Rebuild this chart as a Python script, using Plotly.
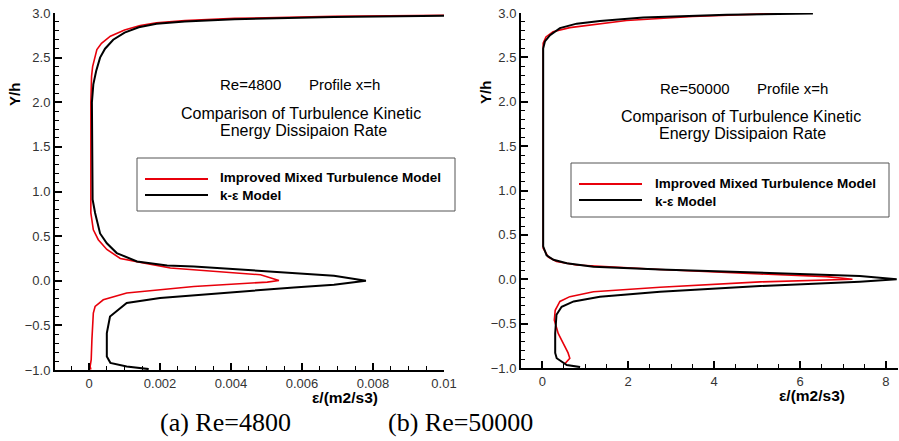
import plotly.graph_objects as go

W, H = 899, 441

# ---------------- data ----------------
# (a) Re=4800  -- epsilon (m2/s3) vs Y/h
ke_4800_x = [0.01, 0.0069, 0.0041, 0.0027, 0.0019, 0.0014, 0.001, 0.00068, 0.00045, 0.00031,
             0.0002, 0.00012, 0.00008, 0.00008, 0.0001, 0.00017, 0.00031, 0.0005, 0.00078,
             0.00135, 0.0022, 0.00295, 0.005, 0.006, 0.0069, 0.0078, 0.0069, 0.00577, 0.00389,
             0.002, 0.00106, 0.00059, 0.0005, 0.0005, 0.0005, 0.0006, 0.00106, 0.00168]
ke_4800_y = [2.97, 2.955, 2.93, 2.905, 2.88, 2.84, 2.78, 2.70, 2.60, 2.50,
             2.35, 2.20, 2.00, 1.00, 0.91, 0.76, 0.53, 0.42, 0.31,
             0.216, 0.17, 0.16, 0.11, 0.086, 0.056, 0.0, -0.045, -0.075, -0.138,
             -0.194, -0.25, -0.40, -0.586, -0.77, -0.85, -0.92, -0.96, -0.99]

imp_4800_x = [0.01, 0.0069, 0.0041, 0.0027, 0.0019, 0.00144, 0.001, 0.0006, 0.00035, 0.00022,
              0.0001, 0.00007, 0.00005, 0.00005, 0.00005, 0.00012, 0.00026, 0.0005, 0.00088,
              0.00153, 0.00229, 0.00483, 0.00535, 0.00502, 0.00295, 0.00106, 0.0004, 0.00017,
              0.00012, 0.00008, 0.00006, 0.00003, 0.00005]
imp_4800_y = [2.975, 2.962, 2.94, 2.915, 2.89, 2.86, 2.81, 2.74, 2.66, 2.59,
              2.40, 2.29, 2.00, 1.00, 0.76, 0.57, 0.46, 0.35, 0.25,
              0.20, 0.142, 0.067, 0.003, -0.015, -0.064, -0.138, -0.213, -0.288,
              -0.362, -0.66, -0.885, -0.96, -0.995]

# (b) Re=50000
ke_50000_x = [6.3, 4.29, 2.35, 1.34, 0.8, 0.41, 0.18, 0.06, 0.02, 0.02, 0.1, 0.26, 0.57, 1.19,
              2.74, 5.07, 7.39, 8.25, 7.39, 5.07, 2.74, 1.34, 0.73, 0.45, 0.33, 0.30, 0.30,
              0.335, 0.57, 0.88]
ke_50000_y = [2.995, 2.98, 2.95, 2.91, 2.88, 2.83, 2.75, 2.68, 2.60, 0.37, 0.27, 0.22, 0.18, 0.14,
              0.11, 0.074, 0.037, 0.0, -0.027, -0.076, -0.14, -0.196, -0.25, -0.31, -0.40, -0.61,
              -0.83, -0.89, -0.966, -0.99]

imp_50000_x = [5.42, 3.5, 1.96, 1.19, 0.64, 0.25, 0.085, 0.02, 0.02, 0.14, 0.33, 0.8, 2.74,
               5.07, 6.62, 7.22, 6.62, 5.07, 2.74, 1.19, 0.64, 0.41, 0.30, 0.28, 0.37, 0.49,
               0.6, 0.64, 0.57, 0.53]
imp_50000_y = [2.995, 2.96, 2.915, 2.87, 2.835, 2.79, 2.73, 2.66, 0.35, 0.25, 0.20, 0.16, 0.11,
               0.06, 0.03, 0.0, -0.008, -0.03, -0.09, -0.14, -0.196, -0.25, -0.35, -0.46, -0.61,
               -0.72, -0.83, -0.89, -0.93, -0.95]

series_names = ["Improved Mixed Turbulence Model", "k-\u03b5 Model"]
y_ticks = [-1.0, -0.5, 0.0, 0.5, 1.0, 1.5, 2.0, 2.5, 3.0]
xa_ticks = [0, 0.002, 0.004, 0.006, 0.008, 0.01]
xb_ticks = [0, 2, 4, 6, 8]
panel_notes = ["Re=4800", "Re=50000"]
captions = ["(a) Re=4800", "(b) Re=50000"]

RED = "#e8000b"
BLACK = "#000000"

# panel geometry (pixels)
XA_DOM = (55, 444)
YA_DOM = (13, 370)
XB_DOM = (521, 898)
YB_DOM = (13, 368)
XA_RANGE = [-0.00096, 0.01]
XB_RANGE = [-0.496, 8.28]
Y_RANGE = [y_ticks[0], y_ticks[-1]]


def px(x):
    return x / W


def py(y):
    return 1 - y / H


fig = go.Figure()
fig.add_trace(go.Scatter(x=imp_4800_x, y=imp_4800_y, mode="lines", name=series_names[0],
                         line=dict(color=RED, width=1.6), xaxis="x", yaxis="y", showlegend=False))
fig.add_trace(go.Scatter(x=ke_4800_x, y=ke_4800_y, mode="lines", name=series_names[1],
                         line=dict(color=BLACK, width=2), xaxis="x", yaxis="y", showlegend=False))
fig.add_trace(go.Scatter(x=imp_50000_x, y=imp_50000_y, mode="lines", name=series_names[0],
                         line=dict(color=RED, width=1.6), xaxis="x2", yaxis="y2", showlegend=False))
fig.add_trace(go.Scatter(x=ke_50000_x, y=ke_50000_y, mode="lines", name=series_names[1],
                         line=dict(color=BLACK, width=2), xaxis="x2", yaxis="y2", showlegend=False))

tickfont = dict(family="Liberation Sans, Arial", size=13, color="#333333")
main = dict(showgrid=False, zeroline=False, showline=True, linecolor="black", linewidth=2,
            ticks="inside", ticklen=7, tickwidth=2, tickcolor="black",
            tickfont=tickfont, automargin=False, tickmode="linear")


def minor(d):
    return dict(dtick=d, ticks="inside", ticklen=4, tickwidth=1, tickcolor="black", showgrid=False)


fig.update_layout(
    width=W, height=H, margin=dict(l=0, r=0, t=0, b=0, autoexpand=False),
    paper_bgcolor="white", plot_bgcolor="white", showlegend=False,
    xaxis=dict(domain=[px(XA_DOM[0]), px(XA_DOM[1])], range=XA_RANGE, anchor="y",
               tick0=xa_ticks[0], dtick=xa_ticks[1] - xa_ticks[0], minor=minor(0.0005), **main),
    yaxis=dict(domain=[py(YA_DOM[1]), py(YA_DOM[0])], range=Y_RANGE, anchor="x",
               tick0=y_ticks[0], dtick=y_ticks[1] - y_ticks[0], tickformat=".1f",
               minor=minor(0.1), **main),
    xaxis2=dict(domain=[px(XB_DOM[0]), px(XB_DOM[1])], range=XB_RANGE, anchor="y2",
                tick0=xb_ticks[0], dtick=xb_ticks[1] - xb_ticks[0], minor=minor(0.5), **main),
    yaxis2=dict(domain=[py(YB_DOM[1]), py(YB_DOM[0])], range=Y_RANGE, anchor="x2",
                tick0=y_ticks[0], dtick=y_ticks[1] - y_ticks[0], tickformat=".1f",
                minor=minor(0.1), **main),
)

shapes = []
ann = []
sans = "Liberation Sans, Arial"


def text(x, y, s, size=15, bold=False, xanchor="center", angle=0, family=sans, color="black"):
    ann.append(dict(x=px(x), y=py(y), xref="paper", yref="paper", text=("<b>%s</b>" % s) if bold else s,
                    showarrow=False, xanchor=xanchor, yanchor="middle", textangle=angle, align="left",
                    font=dict(family=family, size=size, color=color)))


# axis titles
text(15, 95, "Y/h", size=15, bold=True, angle=-90)
text(345, 397, "\u03b5/(m2/s3)", size=15.5, bold=True)
text(485, 93, "Y/h", size=15, bold=True, angle=-90)
text(812, 395, "\u03b5/(m2/s3)", size=15.5, bold=True)

# in-plot notes
text(218, 84, panel_notes[0], xanchor="left")
text(307, 84, "Profile x=h", xanchor="left")
text(301, 113.5, "Comparison of Turbulence Kinetic", size=16)
text(303, 130, "Energy Dissipaion Rate", size=16)
text(658, 88, panel_notes[1], xanchor="left")
text(755, 88, "Profile x=h", xanchor="left")
text(741, 116.5, "Comparison of Turbulence Kinetic", size=16)
text(742, 133, "Energy Dissipaion Rate", size=16)

# captions
text(226, 422, captions[0], size=26, family="Liberation Serif, Times New Roman")
text(461, 422, captions[1], size=26, family="Liberation Serif, Times New Roman")

# legends (drawn boxes)
legends = [
    dict(box=(137, 158, 455, 211), x0=145, x1=208, yr=179, yb=195, tx=218),
    dict(box=(571, 163, 889, 217), x0=579, x1=642, yr=184, yb=200, tx=653),
]
for lg in legends:
    bx0, by0, bx1, by1 = lg["box"]
    shapes.append(dict(type="rect", xref="paper", yref="paper", x0=px(bx0), x1=px(bx1),
                       y0=py(by1), y1=py(by0), line=dict(color="#555555", width=1),
                       fillcolor="white", layer="above"))
    shapes.append(dict(type="line", xref="paper", yref="paper", x0=px(lg["x0"]), x1=px(lg["x1"]),
                       y0=py(lg["yr"]), y1=py(lg["yr"]), line=dict(color=RED, width=2), layer="above"))
    shapes.append(dict(type="line", xref="paper", yref="paper", x0=px(lg["x0"]), x1=px(lg["x1"]),
                       y0=py(lg["yb"]), y1=py(lg["yb"]), line=dict(color=BLACK, width=2), layer="above"))
    text(lg["tx"], (lg["yr"] + lg["yb"]) / 2,
         "<b>%s</b><br><b>%s</b>" % (series_names[0], series_names[1]), size=13.5, xanchor="left")

fig.update_layout(annotations=ann, shapes=shapes)
fig.write_html("out.html")
